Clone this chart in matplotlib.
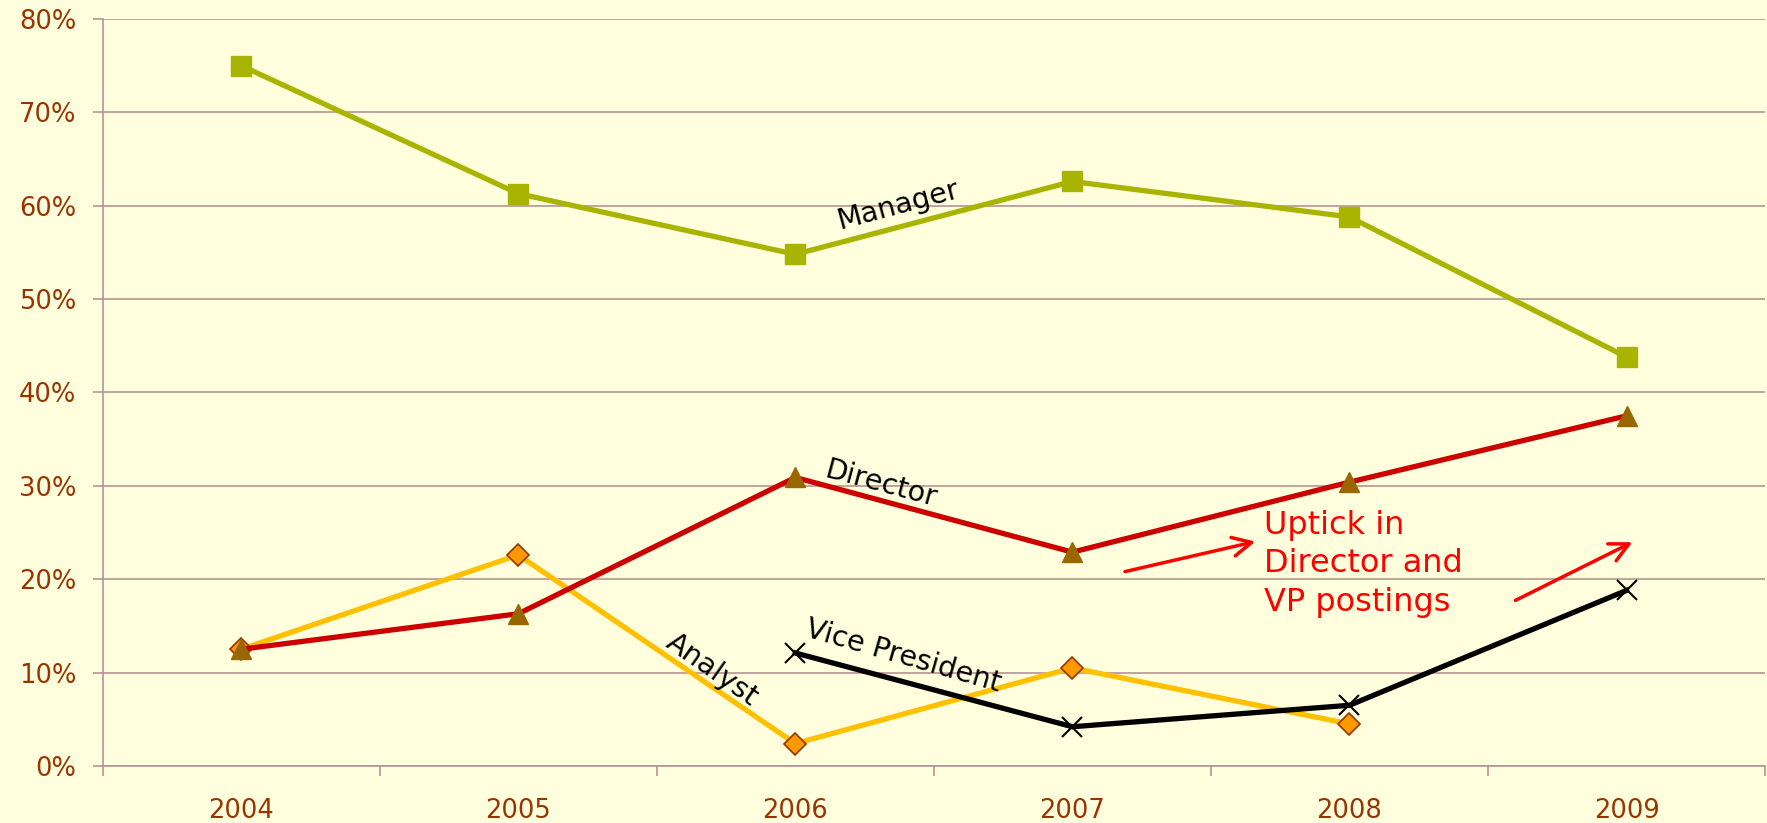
import numpy as np
import matplotlib
matplotlib.use('Agg')
import matplotlib.pyplot as plt

# data (share of postings, %)
years = ['2004', '2005', '2006', '2007', '2008', '2009']
manager = [75.0, 61.3, 54.8, 62.6, 58.8, 43.8]
director = [12.5, 16.3, 30.9, 22.9, 30.4, 37.5]
analyst = [12.5, 22.6, 2.4, 10.5, 4.5, np.nan]
vice_president = [np.nan, np.nan, 12.1, 4.2, 6.5, 18.8]

bg = '#FFFFDD'
grid_col = '#B89494'
tick_col = '#993300'

plt.rcParams['font.family'] = ['DejaVu Sans']

fig = plt.figure(figsize=(17.67, 8.23), dpi=100, facecolor=bg)
ax = fig.add_axes([0.0581, 0.0693, 0.9408, 0.9076], facecolor=bg)

x = np.arange(len(years))

ax.plot(x, manager, color='#A8B400', lw=3.8, marker='s', ms=14,
        mfc='#A8B400', mec='#A8B400', zorder=4)
ax.plot(x, analyst, color='#FFC000', lw=3.8, marker='D', ms=11,
        mfc='#FF9900', mec='#993300', mew=1.2, zorder=3)
ax.plot(x, director, color='#CC0000', lw=3.8, marker='^', ms=15,
        mfc='#996600', mec='#996600', zorder=4)
ax.plot(x, vice_president, color='black', lw=3.8, marker='x', ms=14,
        mew=1.5, zorder=5)

# series labels along the lines
ax.text(2.37, 60.0, 'Manager', fontsize=20.5, rotation=15, ha='center', va='center')
ax.text(2.31, 30.2, 'Director', fontsize=20.5, rotation=-15, ha='center', va='center')
ax.text(2.39, 11.8, 'Vice President', fontsize=20.5, rotation=-16, ha='center', va='center')
ax.text(1.70, 10.3, 'Analyst', fontsize=20.5, rotation=-35, ha='center', va='center')

# callout
ax.text(3.69, 27.4, 'Uptick in\nDirector and\nVP postings', fontsize=23,
        color='#FF0000', ha='left', va='top', linespacing=1.3)
arrow = dict(arrowstyle='->', color='#FF0000', lw=2.5, mutation_scale=34)
ax.annotate('', xy=(3.67, 24.1), xytext=(3.18, 20.75), arrowprops=arrow)
ax.annotate('', xy=(5.03, 24.1), xytext=(4.59, 17.6), arrowprops=arrow)

ax.set_xlim(-0.5, 5.5)
ax.set_ylim(0, 80)

ax.set_yticks(np.arange(0, 81, 10))
ax.set_yticklabels([f'{v}%' for v in range(0, 81, 10)])
ax.yaxis.grid(True, color=grid_col, lw=1.2)
ax.set_axisbelow(True)

ax.set_xticks(np.arange(-0.5, 6, 1))
ax.set_xticklabels([])
ax.set_xticks(x, minor=True)
ax.set_xticklabels(years, minor=True)

ax.tick_params(axis='y', colors=grid_col, labelcolor=tick_col, labelsize=18.5,
               length=7, width=1.2, pad=12)
ax.tick_params(axis='x', which='major', colors=grid_col, length=7, width=1.2)
ax.tick_params(axis='x', which='minor', length=0, labelcolor=tick_col,
               labelsize=18.5, pad=23)

for side in ['top', 'right']:
    ax.spines[side].set_visible(False)
for side in ['left', 'bottom']:
    ax.spines[side].set_color(grid_col)
    ax.spines[side].set_linewidth(1.2)

fig.savefig('out.png', dpi=100, facecolor=bg)
